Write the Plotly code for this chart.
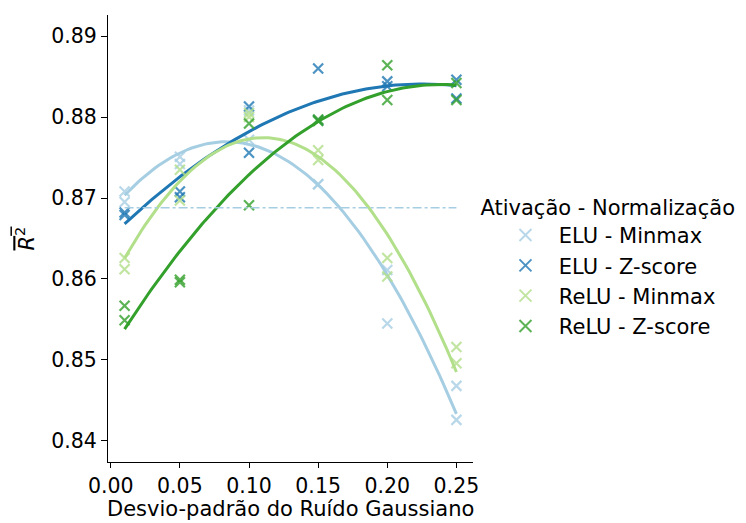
import numpy as np
import plotly.graph_objects as go

noise_levels = [0.01, 0.01, 0.05, 0.05, 0.10, 0.10, 0.15, 0.15, 0.20, 0.20, 0.25, 0.25]

elu_minmax = [0.8708, 0.8695, 0.8751, 0.8742, 0.8808, 0.8772, 0.8717, 0.8717, 0.8611, 0.8545, 0.8468, 0.8426]
elu_zscore = [0.8682, 0.8679, 0.8708, 0.8701, 0.8813, 0.8756, 0.8860, 0.8796, 0.8844, 0.8838, 0.8846, 0.8823]
relu_minmax = [0.8626, 0.8612, 0.8735, 0.8697, 0.8805, 0.8800, 0.8759, 0.8747, 0.8626, 0.8603, 0.8516, 0.8496]
relu_zscore = [0.8567, 0.8549, 0.8599, 0.8596, 0.8792, 0.8691, 0.8797, 0.8795, 0.8864, 0.8821, 0.8842, 0.8821]

series_names = ["ELU - Minmax", "ELU - Z-score", "ReLU - Minmax", "ReLU - Z-score"]
series_values = [elu_minmax, elu_zscore, relu_minmax, relu_zscore]
colors = ["#a6cee3", "#1f78b4", "#b2df8a", "#33a02c"]
marker_colors = ["rgba(166,206,227,0.8)", "rgba(31,120,180,0.8)", "rgba(178,223,138,0.8)", "rgba(51,160,44,0.8)"]

baseline_value = 0.8688
baseline_x = [0.01, 0.25]

x_ticks = [0.00, 0.05, 0.10, 0.15, 0.20, 0.25]
y_ticks = [0.84, 0.85, 0.86, 0.87, 0.88, 0.89]

x_title = "Desvio-padrão do Ruído Gaussiano"
legend_title = "Ativação - Normalização"

FONT = "DejaVu Sans"
NB = "\u00a0"
fig = go.Figure()

xs = np.array(noise_levels)
xfit = np.linspace(min(noise_levels), max(noise_levels), 100)
for name, vals, c, mc in zip(series_names, series_values, colors, marker_colors):
    fig.add_trace(go.Scatter(
        x=noise_levels, y=vals, mode="markers", name=NB * 2 + name, legendgroup=name,
        marker=dict(symbol="x-thin", size=10, color=mc, line=dict(color=mc, width=2.2)),
    ))
    coef = np.polyfit(xs, np.array(vals), 2)
    fig.add_trace(go.Scatter(
        x=xfit, y=np.polyval(coef, xfit), mode="lines", showlegend=False, legendgroup=name,
        line=dict(color=c, width=3),
    ))

fig.add_trace(go.Scatter(
    x=baseline_x, y=[baseline_value, baseline_value], mode="lines", showlegend=False,
    line=dict(color="#a6cee3", width=1.5, dash="dashdot"),
))

fig.add_annotation(
    text=x_title, xref="paper", yref="paper", x=0.5, y=-0.106,
    xanchor="center", yanchor="middle", showarrow=False, borderpad=0,
    font=dict(family=FONT, size=21, color="black"),
)

fig.update_layout(
    width=746, height=523,
    margin=dict(l=108, r=273, t=15, b=61, autoexpand=False),
    paper_bgcolor="white", plot_bgcolor="white",
    font=dict(family=FONT, size=21, color="black"),
    showlegend=True,
    legend=dict(
        title=dict(text=legend_title, font=dict(size=21)),
        x=1.015, xanchor="left", y=0.436, yanchor="middle",
        font=dict(size=21), indentation=27, tracegroupgap=0,
        itemsizing="constant",
    ),
    xaxis=dict(
        range=[-0.002, 0.262], tickvals=x_ticks, tickformat=".2f",
        showline=True, linecolor="black", linewidth=1.2, ticks="outside", ticklen=5,
        tickwidth=1.2, tickcolor="black", showgrid=False, zeroline=False,
        tickfont=dict(size=20.5), ticklabelstandoff=0, automargin=False,
    ),
    yaxis=dict(
        range=[0.8374, 0.8926], tickvals=y_ticks, tickformat=".2f",
        showline=True, linecolor="black", linewidth=1.2, ticks="outside", ticklen=6,
        tickwidth=1.2, tickcolor="black", showgrid=False, zeroline=False,
        title=dict(text="<span style='text-decoration:overline'><i>R</i><sup>2</sup></span>",
                   font=dict(size=21), standoff=10),
        tickfont=dict(size=20.5), automargin=False,
    ),
)

fig.write_html("out.html")
